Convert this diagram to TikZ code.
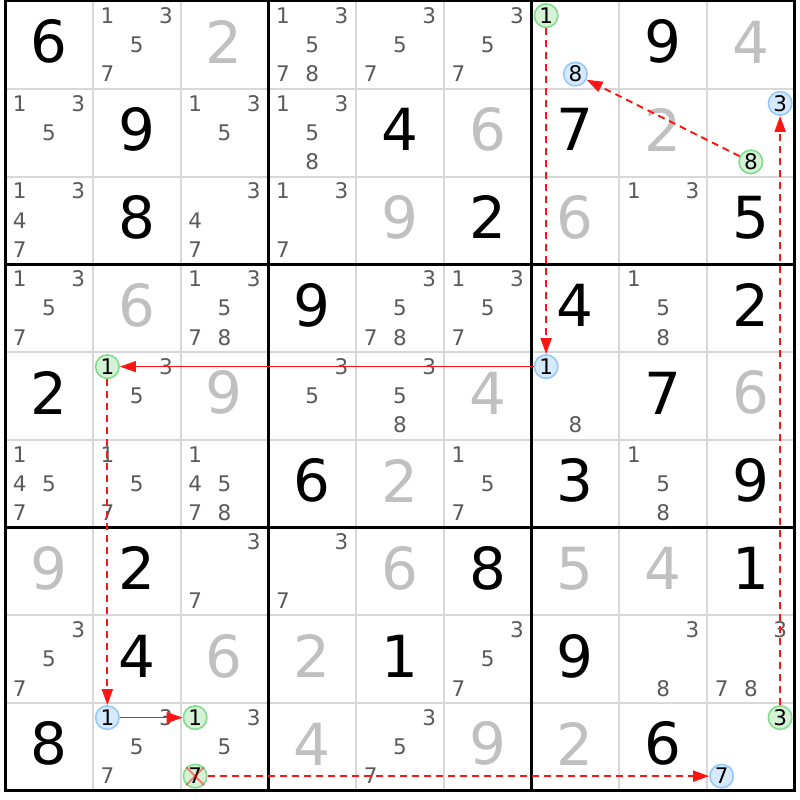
\documentclass[tikz,border=0pt]{standalone}
\usepackage{fontspec}
\setmainfont{DejaVu Sans}
\usetikzlibrary{arrows.meta}
\definecolor{solvedc}{RGB}{192,192,192}
\definecolor{candc}{RGB}{90,90,90}
\definecolor{thinc}{RGB}{216,216,216}
\definecolor{gfill}{RGB}{214,242,214}
\definecolor{gline}{RGB}{130,220,140}
\definecolor{bfill}{RGB}{214,234,255}
\definecolor{bline}{RGB}{150,200,250}
\definecolor{chainred}{RGB}{255,20,20}
\newcommand\gv[3]{\node[givend] (g#1#2) at ({5+87.75*(#2-0.5)},{1+87.75*(#1-0.5)-3}) {#3};}
\newcommand\sv[3]{\node[solvedd] (s#1#2) at ({5+87.75*(#2-0.5)},{1+87.75*(#1-0.5)-3}) {#3};}
\newcommand\cands[3]{\foreach \k in {#3} {%
  \pgfmathsetmacro\px{5+87.75*(#2-1)+14.625*(2*mod(\k-1,3)+1)}%
  \pgfmathsetmacro\py{1+87.75*(#1-1)+14.625*(2*floor((\k-1)/3)+1)}%
  \node[cand] (c#1#2\k) at (\px,\py) {\k};}}
\newcommand\hc[6]{%
  \pgfmathsetmacro\px{5+87.75*(#4-1)+14.625*(2*mod(#5-1,3)+1)}%
  \pgfmathsetmacro\py{1+87.75*(#3-1)+14.625*(2*floor((#5-1)/3)+1)}%
  \node[#1] (#2) at (\px,\py) {#6};}
\begin{document}
\begin{tikzpicture}[x=1pt,y=-1pt,
  thinl/.style={draw=thinc, line width=2pt},
  thickl/.style={draw=black, line width=3pt},
  givend/.style={font=\fontsize{58}{58}\selectfont, text=black, inner sep=0pt},
  solvedd/.style={givend, text=solvedc},
  cand/.style={font=\fontsize{21.5}{21.5}\selectfont, text=candc, inner sep=0pt},
  gc/.style={circle, draw=gline, fill=gfill, line width=1.6pt, minimum size=23.5pt, inner sep=0pt, font=\fontsize{21.5}{21.5}\selectfont, text=black},
  bc/.style={gc, draw=bline, fill=bfill},
  chainl/.style={draw=chainred, line width=1.9pt, dash pattern=on 7pt off 5pt, -{Triangle[length=16pt,width=11pt]}},
  linkl/.style={draw=chainred, line width=1.3pt, -{Triangle[length=16pt,width=11pt]}},
  crossl/.style={draw=red, opacity=0.45, line width=1.8pt}]
\useasboundingbox (0,0) rectangle (800,800);
\fill[white] (0,0) rectangle (800,800);
% grid
\foreach \i in {1,2,4,5,7,8} {
  \draw[thinl] ({5+87.75*\i},1) -- ({5+87.75*\i},790.75);
  \draw[thinl] (5,{1+87.75*\i}) -- (794.75,{1+87.75*\i});
}
\foreach \i in {0,3,6,9} {
  \draw[thickl] ({5+87.75*\i},-0.5) -- ({5+87.75*\i},792.25);
  \draw[thickl] (3.5,{1+87.75*\i}) -- (796.25,{1+87.75*\i});
}
% givens
\gv{1}{1}{6}\gv{1}{8}{9}
\gv{2}{2}{9}\gv{2}{5}{4}\gv{2}{7}{7}
\gv{3}{2}{8}\gv{3}{6}{2}\gv{3}{9}{5}
\gv{4}{4}{9}\gv{4}{7}{4}\gv{4}{9}{2}
\gv{5}{1}{2}\gv{5}{8}{7}
\gv{6}{4}{6}\gv{6}{7}{3}\gv{6}{9}{9}
\gv{7}{2}{2}\gv{7}{6}{8}\gv{7}{9}{1}
\gv{8}{2}{4}\gv{8}{5}{1}\gv{8}{7}{9}
\gv{9}{1}{8}\gv{9}{8}{6}
% solved
\sv{1}{3}{2}\sv{1}{9}{4}
\sv{2}{6}{6}\sv{2}{8}{2}
\sv{3}{5}{9}\sv{3}{7}{6}
\sv{4}{2}{6}
\sv{5}{3}{9}\sv{5}{6}{4}\sv{5}{9}{6}
\sv{6}{5}{2}
\sv{7}{1}{9}\sv{7}{5}{6}\sv{7}{7}{5}\sv{7}{8}{4}
\sv{8}{3}{6}\sv{8}{4}{2}
\sv{9}{4}{4}\sv{9}{6}{9}\sv{9}{7}{2}
% candidates
\cands{1}{2}{1,3,5,7}\cands{1}{4}{1,3,5,7,8}\cands{1}{5}{3,5,7}\cands{1}{6}{3,5,7}
\cands{2}{1}{1,3,5}\cands{2}{3}{1,3,5}\cands{2}{4}{1,3,5,8}
\cands{3}{1}{1,3,4,7}\cands{3}{3}{3,4,7}\cands{3}{4}{1,3,7}\cands{3}{8}{1,3}
\cands{4}{1}{1,3,5,7}\cands{4}{3}{1,3,5,7,8}\cands{4}{5}{3,5,7,8}\cands{4}{6}{1,3,5,7}\cands{4}{8}{1,5,8}
\cands{5}{2}{3,5}\cands{5}{4}{3,5}\cands{5}{5}{3,5,8}\cands{5}{7}{8}
\cands{6}{1}{1,4,5,7}\cands{6}{2}{1,5,7}\cands{6}{3}{1,4,5,7,8}\cands{6}{6}{1,5,7}\cands{6}{8}{1,5,8}
\cands{7}{3}{3,7}\cands{7}{4}{3,7}
\cands{8}{1}{3,5,7}\cands{8}{6}{3,5,7}\cands{8}{8}{3,8}\cands{8}{9}{3,7,8}
\cands{9}{2}{3,5,7}\cands{9}{3}{3,5}\cands{9}{5}{3,5,7}
% highlighted candidates
\hc{gc}{a1}{1}{7}{1}{1}
\hc{bc}{a2}{5}{7}{1}{1}
\hc{gc}{a3}{5}{2}{1}{1}
\hc{bc}{a4}{9}{2}{1}{1}
\hc{gc}{a5}{9}{3}{1}{1}
\hc{gc}{a6}{9}{3}{7}{7}
\hc{bc}{a7}{9}{9}{7}{7}
\hc{gc}{a8}{9}{9}{3}{3}
\hc{bc}{a9}{2}{9}{3}{3}
\hc{gc}{a10}{2}{9}{8}{8}
\hc{bc}{a11}{1}{7}{8}{8}
\draw[crossl] (a6.north west) -- (a6.south east);
\draw[crossl] (a6.north east) -- (a6.south west);
% links
\draw[chainl] (a1) -- (a2);
\draw[linkl] (a2) -- (a3);
\draw[chainl] (a3) -- (a4);
\draw[linkl] (a4) -- (a5);
\draw[chainl] (a6) -- (a7);
\draw[chainl] (a8) -- (a9);
\draw[chainl] (a10) -- (a11);
\end{tikzpicture}
\end{document}
